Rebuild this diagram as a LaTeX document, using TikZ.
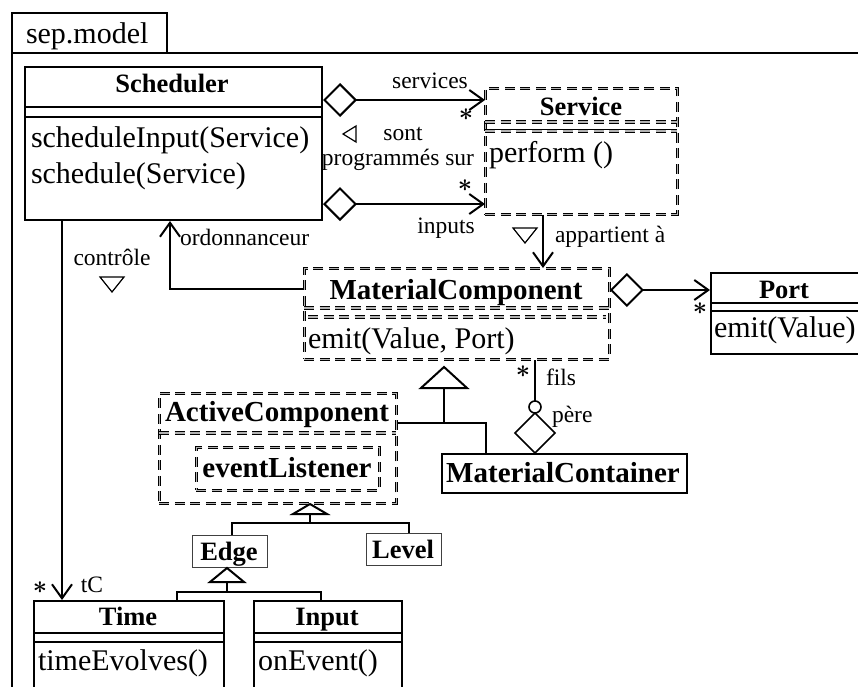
\documentclass[tikz,border=0pt]{standalone}
\usepackage{fontspec}
\setmainfont{Liberation Serif}
\usetikzlibrary{arrows.meta,calc}

\newcommand\txtbody{\fontsize{30}{34}\selectfont}
\newcommand\txtsmall{\fontsize{23.5}{27}\selectfont}
\newcommand\txtcls{\fontsize{26.5}{30}\selectfont\bfseries}
\newcommand\txtbig{\fontsize{29}{32}\selectfont\bfseries}
\newcommand\manystar{\raisebox{-6.5pt}{\smash{\fontsize{26}{26}\selectfont\boldmath$\ast$}}}

\begin{document}
\begin{tikzpicture}[x=1pt,y=-1pt,line width=2pt,
  solidbox/.style={draw, line width=2pt, rectangle, anchor=north west, inner sep=0pt},
  thinbox/.style={draw=black!75, line width=1.2pt, rectangle, anchor=north west, inner sep=0pt},
  dashbox/.style={draw, rectangle, anchor=north west, inner sep=0pt, line width=0.9pt,
    double=gray!60, double distance=1.6pt, dash pattern=on 10pt off 5.5pt},
  dashline/.style={draw, line width=0.9pt, double=gray!60, double distance=1.6pt,
    dash pattern=on 10pt off 5.5pt},
  lbl/.style={inner sep=0pt, font=\txtsmall},
  star/.style={inner sep=0pt},
  op/.style={inner sep=0pt, anchor=base west, font=\txtbody},
  cname/.style={inner sep=0pt, anchor=base, font=\txtcls},
  bigname/.style={inner sep=0pt, anchor=base, font=\txtbig},
  assoc/.style={line width=2pt, -{Straight Barb[length=14pt,width=20pt,line width=2pt]}},
  aggr/.style={line width=2pt, {Diamond[open,length=34pt,width=34pt,line width=2pt]}-{Straight Barb[length=14pt,width=20pt,line width=2pt]}},
  gentri/.style={draw, line width=2pt, fill=white},
  marktri/.style={draw, line width=1.2pt}]

\useasboundingbox (0,0) rectangle (858,686);
\clip (0,0) rectangle (858,686);
\fill[white] (0,0) rectangle (858,686);

% package frame
\node[solidbox, minimum width=870pt, minimum height=660pt] (pkg) at (11,52) {};
\node[solidbox, minimum width=155pt, minimum height=40pt] (tab) at (11,12) {};
\node[op] (pkgname) at (25,43) {sep.model};

% Scheduler
\node[solidbox, minimum width=297pt, minimum height=153pt] (sched) at (24,66) {};
\draw (24,107) -- (321,107);
\draw (24,117) -- (321,117);
\node[cname] (schedname) at (172,92) {Scheduler};
\node[op] (schedop1) at (30,147) {scheduleInput(Service)};
\node[op] (schedop2) at (30,183) {schedule(Service)};

% Service
\node[dashbox, minimum width=192pt, minimum height=126pt] (service) at (485,88) {};
\draw[dashline] (485,122) -- (677,122);
\draw[dashline] (485,131) -- (677,131);
\draw[line width=0.8pt] (485,129) -- (677,129);
\node[cname] (servicename) at (581,115) {Service};
\node[op] (serviceop) at (488,162) {perform ()};

% MaterialComponent
\node[dashbox, minimum width=305pt, minimum height=91pt] (mc) at (304,268) {};
\draw[dashline] (304,308) -- (609,308);
\draw[dashline] (308,317) -- (606,317);
\node[bigname] (mcname) at (456,299) {MaterialComponent};
\node[op] (mcop) at (307,348) {emit(Value, Port)};

% Port
\node[solidbox, minimum width=154pt, minimum height=81pt] (port) at (710,272) {};
\draw[line width=1.2pt] (710,303) -- (864,303);
\draw[line width=2.6pt] (710,311) -- (864,311);
\node[cname] (portname) at (784,298) {Port};
\node[op] (portop) at (713,337) {emit(Value)};

% ActiveComponent with eventListener
\node[dashbox, minimum width=237pt, minimum height=110pt] (ac) at (159,393) {};
\draw[dashline] (159,433) -- (396,433);
\node[bigname] (acname) at (277,421) {ActiveComponent};
\node[dashbox, minimum width=183pt, minimum height=43pt] (evl) at (196,447) {};
\node[bigname] (evlname) at (287,477) {eventListener};

% MaterialContainer
\node[solidbox, line width=1.6pt, minimum width=245pt, minimum height=39pt] (mcont) at (441,453) {};
\node[bigname] (mcontname) at (563,482) {MaterialContainer};

% Edge and Level
\node[thinbox, minimum width=75pt, minimum height=32pt] (edge) at (192,535) {};
\node[cname] (edgename) at (229,560) {Edge};
\node[thinbox, minimum width=75pt, minimum height=32pt] (level) at (366,533) {};
\node[cname] (levelname) at (403,558) {Level};

% Time and Input
\node[solidbox, minimum width=190pt, minimum height=100pt] (time) at (33,600) {};
\draw (33,633) -- (223,633);
\draw (33,642) -- (223,642);
\node[cname] (timename) at (128,625) {Time};
\node[op] (timeop) at (37,670) {timeEvolves()};
\node[solidbox, minimum width=148pt, minimum height=100pt] (input) at (253,600) {};
\draw (253,633) -- (401,633);
\draw (253,642) -- (401,642);
\node[cname] (inputname) at (327,625) {Input};
\node[op] (inputop) at (257,670) {onEvent()};

% Scheduler -- Service associations
\draw[aggr] ([yshift=-34pt]sched.north east) -- ([yshift=-12pt]service.north west);
\draw[aggr] ([yshift=-138pt]sched.north east) -- ([yshift=-116pt]service.north west);
\node[lbl] (lservices) at (430,81) {services};
\node[star] (lstar1) at (466,117) {\manystar};
\node[lbl] (lsont) at (403,134) {sont};
\node[lbl] (lprog) at (398,160) {programmés sur};
\node[star] (lstar2) at (465,188) {\manystar};
\node[lbl] (linputs) at (446,228) {inputs};
\coordinate (tri1) at (343,134);
\draw[marktri] (tri1) -- ++(13,-8) -- ++(0,16) -- cycle;

% Service -- MaterialComponent
\draw[assoc] ([xshift=58pt]service.south west) -- ([xshift=58pt]service.south west |- mc.north);
\node[lbl, anchor=west] (lappart) at (554,237) {appartient à};
\coordinate (tri2) at (525,243);
\draw[marktri] (tri2) -- ++(-12,-15) -- ++(24,0) -- cycle;

% MaterialComponent -- Scheduler
\draw[assoc] ([yshift=-21pt]mc.north west) -| ([xshift=146pt]sched.south west);
\node[lbl, anchor=west] (lordo) at (179,237) {ordonnanceur};

% Scheduler -- Time
\draw[assoc] ([xshift=38pt]sched.south west) -- ([xshift=38pt]sched.south west |- time.north);
\node[lbl] (lctrl) at (112,257) {contrôle};
\coordinate (tri3) at (112,292);
\draw[marktri] (tri3) -- ++(-12,-15) -- ++(24,0) -- cycle;
\node[star] (lstar3) at (40,590) {\manystar};
\node[lbl] (ltc) at (92,585) {tC};

% MaterialComponent -- Port
\draw[aggr] ([yshift=-22pt]mc.north east) -- ([yshift=-18pt]port.north west);
\node[star] (lstar4) at (700,311) {\manystar};

% generalisation to MaterialComponent
\coordinate (g1) at (444,367);
\coordinate (j1) at (444,423);
\draw ([yshift=-30pt]ac.north east) -| ([xshift=45pt]mcont.north west);
\draw ($(g1)+(0,21)$) -- (j1);
\draw[gentri] (g1) -- ++(-23,21) -- ++(46,0) -- cycle;

% fils / pere composition
\coordinate (pere) at ([xshift=94pt]mcont.north west);
\draw[line width=1.6pt] (pere) -- ++(-20,-20) -- ++(20,-20) -- ++(20,20) -- cycle;
\draw[line width=1.6pt] ($(pere)+(0,-46)$) circle (6pt);
\draw[line width=2pt] ($(pere)+(0,-52)$) -- ([xshift=231pt]mc.south west);
\node[star] (lstar5) at (523,374) {\manystar};
\node[lbl, anchor=west] (lfils) at (545,377) {fils};
\node[lbl, anchor=west] (lpere) at (551,417) {père};

% generalisation to ActiveComponent
\coordinate (g2) at (310,504);
\draw ([xshift=40pt]edge.north west) -- ++(0,-12) -| ([xshift=43pt]level.north west);
\draw ($(g2)+(0,10)$) -- ++(0,9);
\draw[gentri] (g2) -- ++(-17,10) -- ++(34,0) -- cycle;

% generalisation to Edge
\coordinate (g3) at (227,568);
\draw ([xshift=144pt]time.north west) -- ++(0,-8) -| ([xshift=68pt]input.north west);
\draw ($(g3)+(0,14)$) -- ++(0,10);
\draw[gentri] (g3) -- ++(-17,14) -- ++(34,0) -- cycle;

\end{tikzpicture}
\end{document}
